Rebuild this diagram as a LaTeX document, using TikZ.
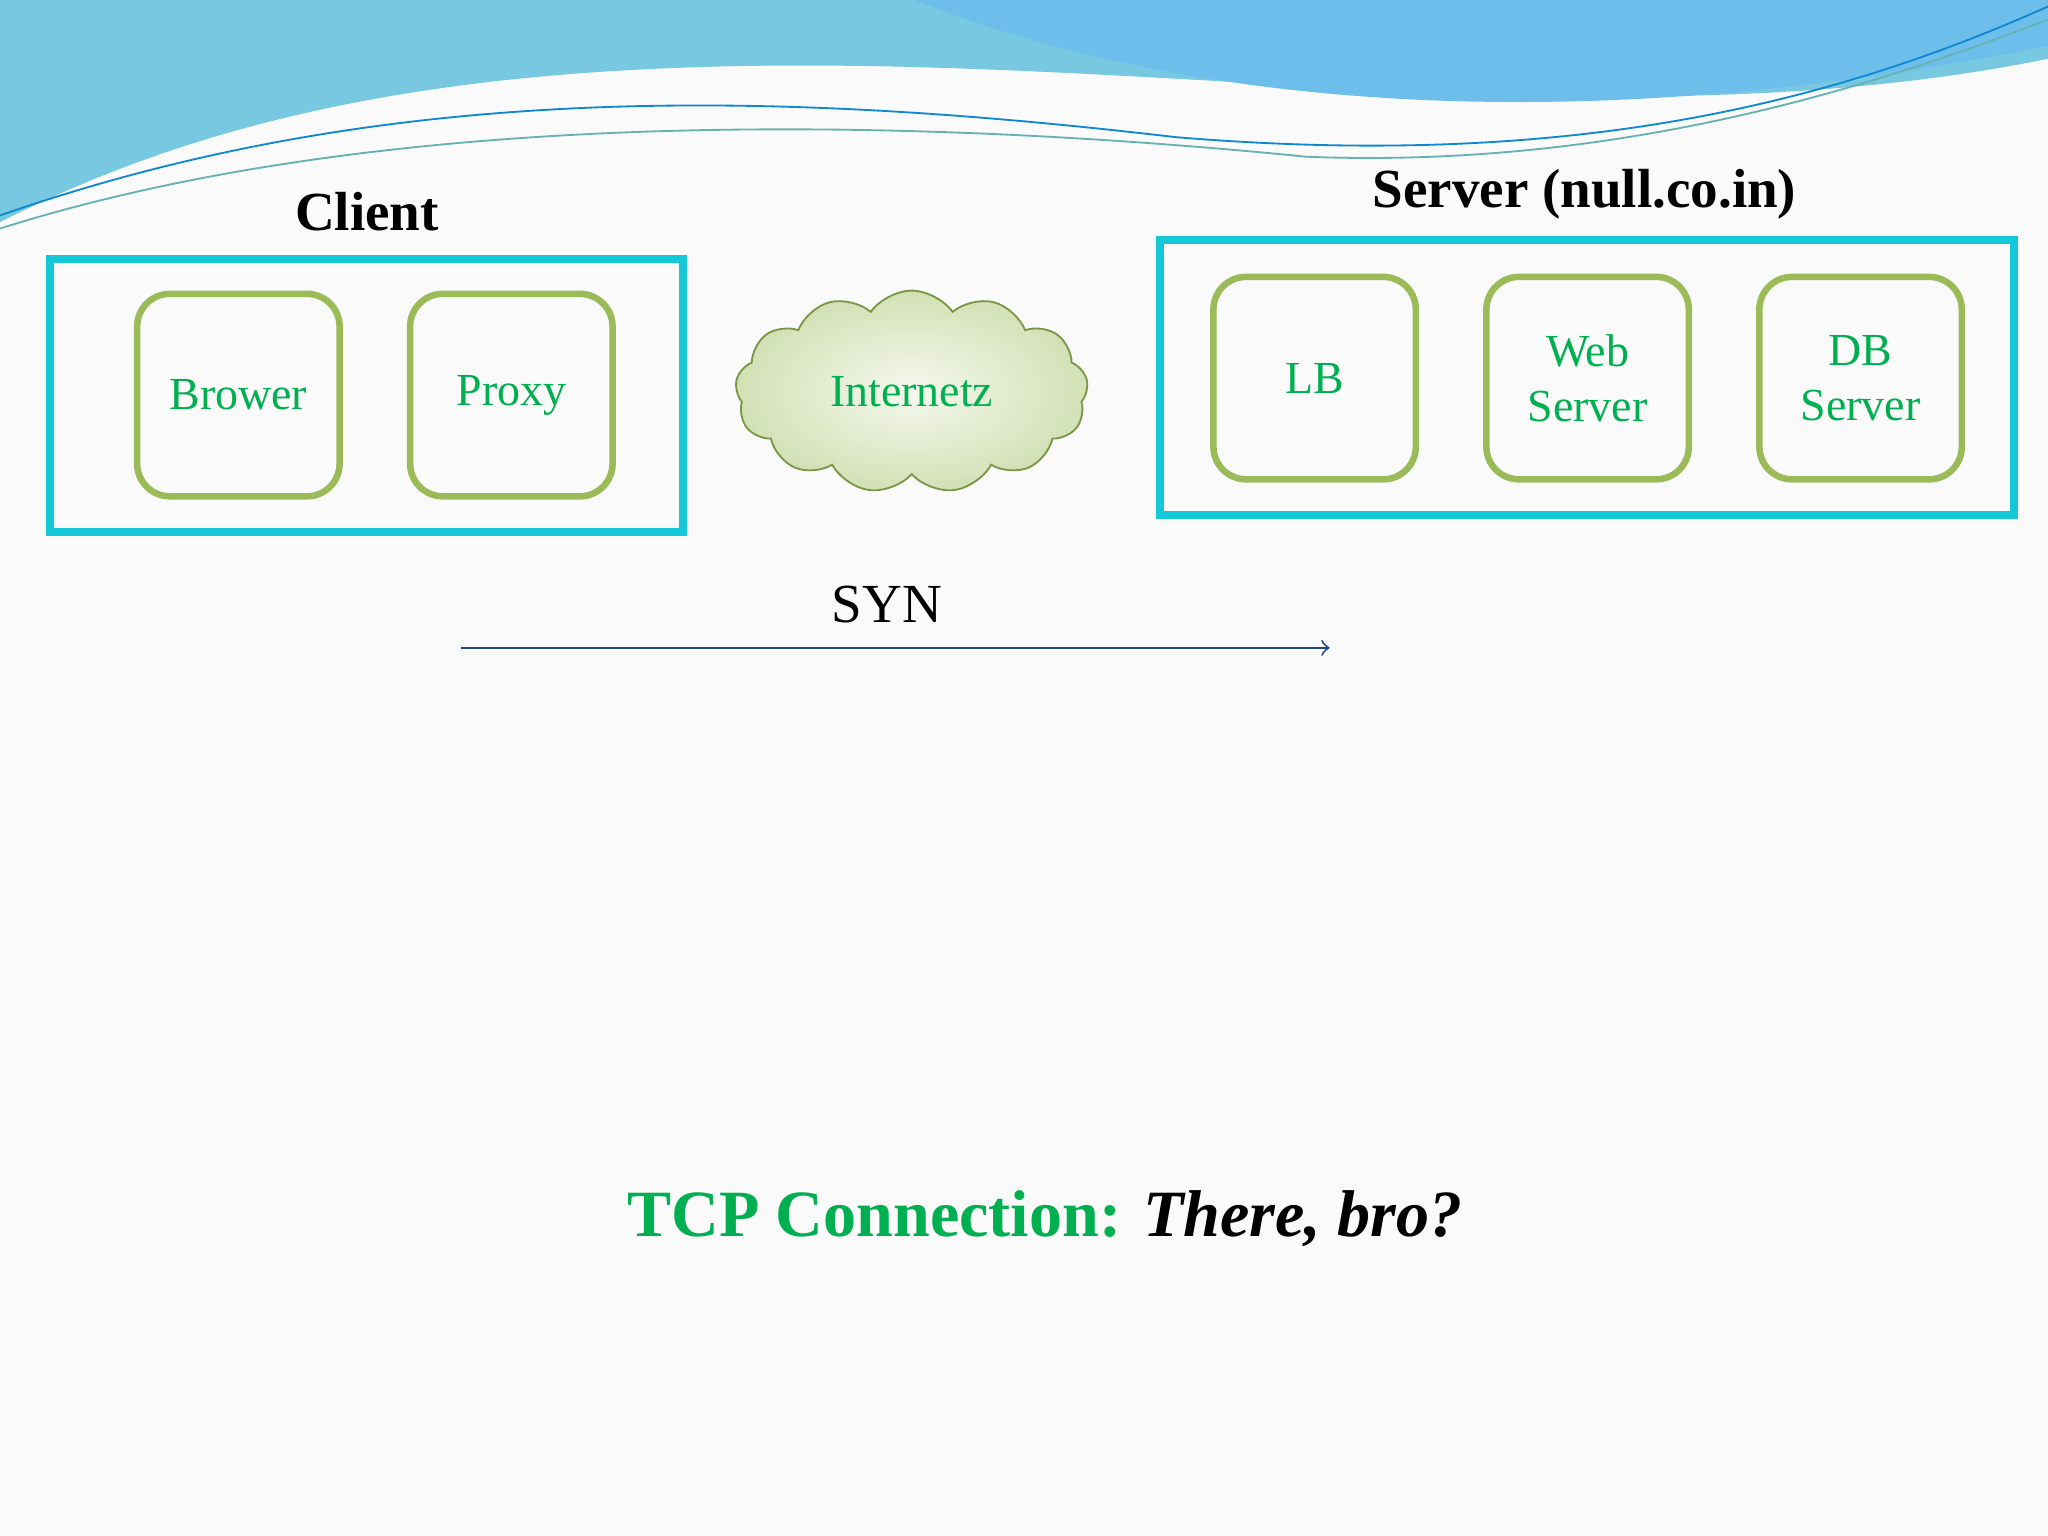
\documentclass[tikz,border=0pt]{standalone}
\usepackage{fontspec}
\setmainfont{Liberation Serif}
\usetikzlibrary{shapes.symbols}
\definecolor{boxcyan}{RGB}{20,200,215}
\definecolor{olive}{RGB}{155,187,89}
\definecolor{txtgreen}{RGB}{0,176,80}
\definecolor{arrowblue}{RGB}{30,70,130}
\definecolor{wavea}{RGB}{120,200,225}
\definecolor{waveb}{RGB}{110,190,235}
\begin{document}
\begin{tikzpicture}[x=1cm,y=-1cm,
                group/.style={draw=boxcyan, line width=0.6mm, minimum width=#1},
                part/.style={draw=olive, line width=0.5mm, rounded corners=0.25cm, minimum width=1.55cm, minimum height=1.55cm, align=center, text=txtgreen, font=\normalsize},
                title/.style={font=\large\bfseries}]
                \tikzset{cloud box/.style={cloud, cloud puffs=13, cloud puff arc=110, aspect=1.7, draw=olive!80!black, inner color=olive!10, outer color=olive!45, minimum width=2.7cm, minimum height=1.55cm, text=txtgreen, font=\normalsize}}
                \useasboundingbox (0,0) rectangle (15.68,11.76);
                \fill[black!2] (0,0) rectangle (15.68,11.76);
                % top wave
                \fill[wavea] (0,0) -- (15.68,0) -- (15.68,0.45) .. controls (12,1.2) and (8,0.2) .. (4,0.6) .. controls (2,0.8) and (0.8,1.3) .. (0,1.7) -- cycle;
                \fill[waveb] (7,0) .. controls (9,0.8) and (12,1.1) .. (15.68,0.35) -- (15.68,0) -- cycle;
                \draw[cyan!70!blue, thin] (0,1.65) .. controls (3,0.6) and (6,0.7) .. (9,1.05) .. controls (12,1.3) and (14,0.8) .. (15.68,0.05);
                \draw[teal!60, thin] (0,1.75) .. controls (3,0.8) and (7,0.9) .. (10,1.2) .. controls (12.5,1.3) and (14.5,0.6) .. (15.68,0.15);
                % client side
                \node[title] (clienttitle) at (2.81,1.62) {Client};
                \node[group=4.85cm, minimum height=2.09cm] (client) at (2.805,3.025) {};
                \node[part] (brower) at (1.825,3.025) {Brower};
                \node[part] (proxy) at (3.915,3.025) {Proxy};
                % internet
                \node[cloud box] (net) at (6.98,3.0) {Internetz};
                % server side
                \node[title] (servertitle) at (12.13,1.49) {Server (null.co.in)};
                \node[group=6.54cm, minimum height=2.1cm] (server) at (12.15,2.89) {};
                \node[part] (lb) at (10.065,2.895) {LB};
                \node[part] (web) at (12.155,2.895) {Web\\Server};
                \node[part] (db) at (14.245,2.895) {DB\\Server};
                % handshake
                \coordinate (synstart) at (3.53,4.96);
                \coordinate (synend) at (10.18,4.96);
                \draw[arrowblue, ->, thin] (synstart) -- (synend);
                \node[font=\large] (syn) at (6.79,4.63) {SYN};
                \node[font=\Large\bfseries] (caption) at (8.0,9.33) {\textcolor{txtgreen}{TCP Connection:} \textit{There, bro?}};
            \end{tikzpicture}
\end{document}
